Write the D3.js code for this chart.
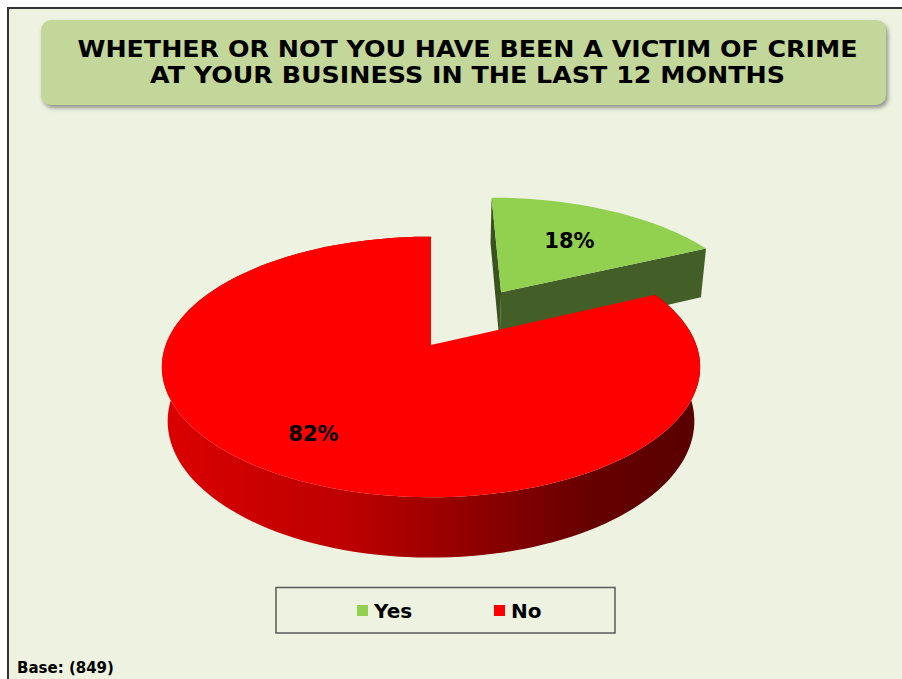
<!DOCTYPE html>
<html>
<head>
<meta charset="utf-8">
<script src="https://cdn.jsdelivr.net/npm/d3@7"></script>
<style>
  html, body { margin: 0; padding: 0; background: #ffffff; }
  svg { display: block; }
</style>
</head>
<body>
<svg id="chart" width="902" height="679"></svg>
<script>
// ---- data ----
const categories = ["Yes", "No"];
const values = [18, 82];
const sliceColors = ["#92D050", "#FF0000"];
const titleLines = [
  "WHETHER OR NOT YOU HAVE BEEN A VICTIM OF CRIME",
  "AT YOUR BUSINESS IN THE LAST 12 MONTHS"
];
const baseNote = "Base: (849)";

// ---- layout ----
const W = 902, H = 679;
const bg = "#EDF2E1";
const svg = d3.select("#chart");
const defs = svg.append("defs");

// 3D view of a unit-radius disc seen from above with perspective
const view = { cx: 431, cy: 345, F: 1385, D: 5.22, tilt: 28.5 * Math.PI / 180, depth: 0.235 };
function project(X, Y, Z) {
  const s = Math.sin(view.tilt), c = Math.cos(view.tilt);
  const yp = Y * c + Z * s;
  const zp = view.D - Y * s + Z * c;
  return [view.cx + view.F * X / zp, view.cy - view.F * yp / zp];
}
const explode = [0.53, 0];
const labelRadius = [0.6, 0.74];

// chart area with frame
svg.append("rect").attr("x", 8).attr("y", 8).attr("width", W - 8).attr("height", H - 8).attr("fill", bg);
svg.append("path").attr("d", `M8,${H} L8,8 L${W},8`).attr("fill", "none")
  .attr("stroke", "#333").attr("stroke-width", 2);

// title banner
const shadow = defs.append("filter").attr("id", "shadow").attr("x", "-5%").attr("y", "-20%")
  .attr("width", "110%").attr("height", "150%");
shadow.append("feDropShadow").attr("dx", 2).attr("dy", 3).attr("stdDeviation", 2)
  .attr("flood-color", "#7a7a70").attr("flood-opacity", 0.8);
svg.append("rect").attr("x", 41).attr("y", 20).attr("width", 845).attr("height", 85).attr("rx", 10)
  .attr("fill", "#C4D79B").attr("filter", "url(#shadow)");
const titleWidths = [780, 635];
titleLines.forEach((t, i) => {
  svg.append("text").attr("x", 467.5).attr("y", 56.7 + i * 26.6)
    .attr("text-anchor", "middle")
    .attr("font-family", "DejaVu Sans, Verdana, sans-serif").attr("font-weight", "bold")
    .attr("font-size", 23).attr("fill", "#000")
    .attr("textLength", titleWidths[i]).attr("lengthAdjust", "spacingAndGlyphs")
    .text(t);
});

// ---- pie ----
const pie = d3.pie().sort(null).value(d => d);
const arcs = pie(values);
const line = d3.line();
const STEP = Math.PI / 90;

function sampleAngles(a0, a1) {
  const n = Math.max(2, Math.ceil((a1 - a0) / STEP));
  return d3.range(n + 1).map(k => a0 + (a1 - a0) * k / n);
}
function offsetOf(i) {
  const mid = (arcs[i].startAngle + arcs[i].endAngle) / 2;
  return [explode[i] * Math.sin(mid), explode[i] * Math.cos(mid)];
}
function rimPt(i, a, Y, r = 1) {
  const [ox, oz] = offsetOf(i);
  return project(ox + r * Math.sin(a), Y, oz + r * Math.cos(a));
}

const wallGrad = defs.append("linearGradient").attr("id", "redWall")
  .attr("gradientUnits", "userSpaceOnUse").attr("x1", 160).attr("x2", 700).attr("y1", 0).attr("y2", 0);
[[0, "#DC0000"], [0.35, "#BC0000"], [0.6, "#8C0000"], [0.8, "#660000"], [1, "#580000"]]
  .forEach(([o, c]) => wallGrad.append("stop").attr("offset", o).attr("stop-color", c));

const pieG = svg.append("g");
const h = -view.depth;

// draw the back slice (Yes) first, then the front slice (No)
[0, 1].forEach(i => {
  const d = arcs[i];
  const a0 = d.startAngle, a1 = d.endAngle;
  const apexTop = rimPt(i, 0, 0, 0), apexBot = rimPt(i, 0, h, 0);
  const g = pieG.append("g");
  if (i === 0) {
    // cut faces of the exploded slice
    g.append("path").attr("d", line([apexTop, rimPt(i, a0, 0), rimPt(i, a0, h), apexBot]) + "Z")
      .attr("fill", "#3A5220");
    g.append("path").attr("d", line([apexTop, rimPt(i, a1, 0), rimPt(i, a1, h), apexBot]) + "Z")
      .attr("fill", "#435E26");
  } else {
    // outer wall
    const angs = sampleAngles(a0, a1);
    const top = angs.map(a => rimPt(i, a, 0));
    const bot = angs.slice().reverse().map(a => rimPt(i, a, h));
    g.append("path").attr("d", line(top.concat(bot)) + "Z").attr("fill", "url(#redWall)");
  }
  const face = [apexTop].concat(sampleAngles(a0, a1).map(a => rimPt(i, a, 0)));
  g.append("path").attr("d", line(face) + "Z").attr("fill", sliceColors[i]);
});

// value labels
arcs.forEach((d, i) => {
  const mid = (d.startAngle + d.endAngle) / 2;
  const [x, y] = rimPt(i, mid, 0, labelRadius[i]);
  svg.append("text").attr("x", x).attr("y", y + 7.5).attr("text-anchor", "middle")
    .attr("font-family", "DejaVu Sans, Verdana, sans-serif").attr("font-weight", "bold")
    .attr("font-size", 21).attr("fill", "#000")
    .text(d.data + "%");
});

// legend
svg.append("rect").attr("x", 276).attr("y", 587.5).attr("width", 339).attr("height", 45.5)
  .attr("fill", bg).attr("stroke", "#5a5a5a").attr("stroke-width", 1.5);
const legendX = d3.scalePoint().domain(categories).range([357, 494]);
categories.forEach((c, i) => {
  const x = legendX(c);
  svg.append("rect").attr("x", x).attr("y", 605).attr("width", 11).attr("height", 11).attr("fill", sliceColors[i]);
  svg.append("text").attr("x", x + 17).attr("y", 618)
    .attr("font-family", "DejaVu Sans, Verdana, sans-serif").attr("font-weight", "bold")
    .attr("font-size", 20).attr("fill", "#000").text(c);
});

// base note
svg.append("text").attr("x", 17).attr("y", 673)
  .attr("font-family", "DejaVu Sans, Verdana, sans-serif").attr("font-weight", "bold")
  .attr("font-size", 15).attr("fill", "#000").text(baseNote);
</script>
</body>
</html>
